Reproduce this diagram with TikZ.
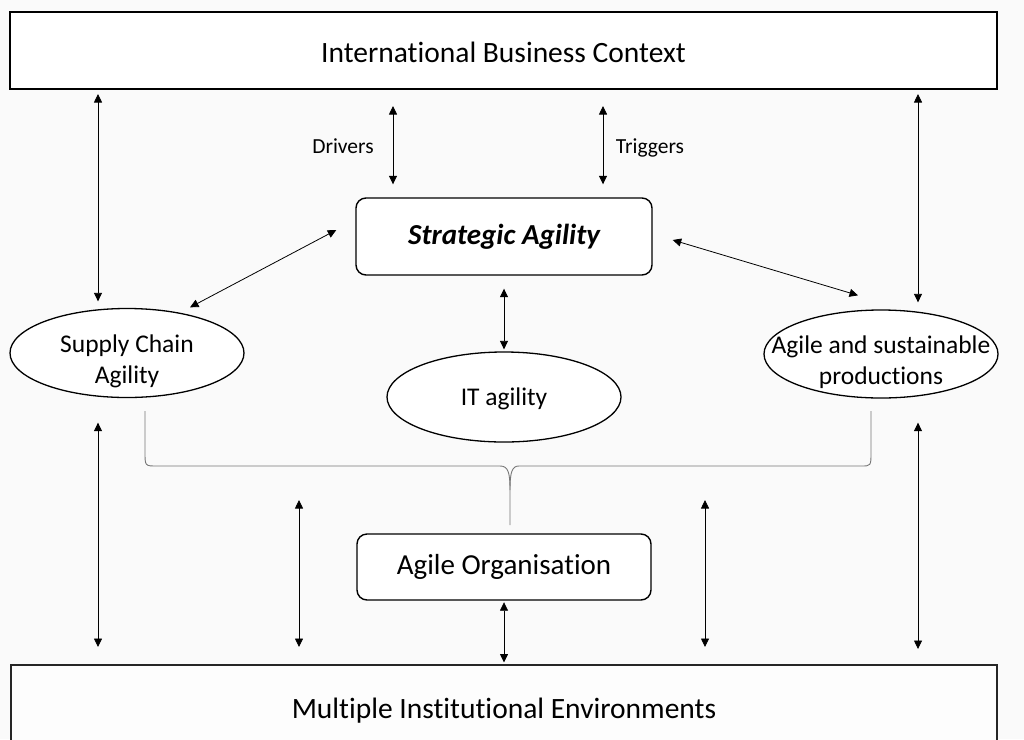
\documentclass[tikz,border=0pt]{standalone}
\usepackage{fontspec}
\setmainfont{Carlito}[Ligatures={NoCommon}]
\usetikzlibrary{arrows.meta,shapes.geometric}
\definecolor{bgc}{HTML}{FAFAFA}
\definecolor{bracec}{HTML}{777777}
\tikzset{
  bigbox/.style={draw=black, line width=2pt, fill=white, inner sep=0pt, font=\fontsize{29.5}{36}\selectfont},
  rbox/.style={draw=black, line width=1.4pt, rounded corners=10pt, fill=white, inner sep=0pt},
  ell/.style={draw=black, line width=1.3pt, ellipse, inner sep=0pt, minimum width=234pt, fill=white},
  elltext/.style={align=center, font=\fontsize{25.5}{31}\selectfont},
  dbl/.style={{Triangle[length=8.5pt,width=8pt]}-{Triangle[length=8.5pt,width=8pt]}, line width=0.8pt},
  lab/.style={font=\fontsize{21.5}{26}\selectfont, inner sep=0pt, anchor=base},
  bracel/.style={draw=bracec, line width=0.9pt}
}
\begin{document}
\begin{tikzpicture}[x=1pt,y=-1pt]
\fill[bgc] (0,0) rectangle (1024,739);
\useasboundingbox (0,0) rectangle (1024,739);
\clip (0,0) rectangle (1024,739);
% main boxes
\node[bigbox, minimum width=987pt, minimum height=77pt, text height=24pt, text depth=0pt] (top) at (503.5,50.5) {International Business Context};
\node[bigbox, draw=black!85, fill=white!60!bgc, minimum width=986pt, minimum height=84pt, text height=23pt, text depth=0pt] (bot) at (504,707) {Multiple Institutional Environments};
\node[rbox, minimum width=296pt, minimum height=77pt, font=\fontsize{29}{35}\selectfont\bfseries\itshape] (sa) at (504,236.5) {Strategic Agility};
\node[rbox, minimum width=294pt, minimum height=66pt, font=\fontsize{29}{35}\selectfont] (ao) at (504,567) {Agile Organisation};
% ellipses
\node[ell, minimum height=89pt, label={[elltext, yshift=-8pt]center:Supply Chain\\Agility}] (sca) at (127,353) {};
\node[ell, minimum height=90pt, label={[elltext, yshift=-2pt]center:IT agility}] (it) at (504,397) {};
\node[ell, minimum height=88pt, label={[elltext, yshift=-8pt]center:Agile and sustainable\\productions}] (ap) at (881,354) {};
% labels
\node[lab] (drv) at (343,153) {Drivers};
\node[lab] (trg) at (650,153) {Triggers};
% helper coordinates
\coordinate (cL) at (98,0);
\coordinate (cR) at (918,0);
\coordinate (cD) at (393,0);
\coordinate (cT) at (603,0);
\coordinate (c3) at (299,500);
\coordinate (c4) at (705,500);
% arrows top
\draw[dbl, shorten <=4pt, shorten >=6.5pt] (top.south -| cL) -- (sca.north -| cL);
\draw[dbl, shorten <=4pt, shorten >=7pt] (top.south -| cR) -- (ap.north -| cR);
\draw[dbl, shorten <=16pt, shorten >=13pt] (top.south -| cD) -- (sa.north -| cD);
\draw[dbl, shorten <=16pt, shorten >=13pt] (top.south -| cT) -- (sa.north -| cT);
% diagonals
\draw[dbl] ([shift={(-19pt,6.5pt)}]sa.west) -- ([shift={(63pt,0.5pt)}]sca.north);
\draw[dbl] ([shift={(20pt,-3.5pt)}]sa.east) -- ([shift={(-23pt,14pt)}]ap.north);
% strategic to IT
\draw[dbl, shorten <=13pt, shorten >=2pt] (sa.south) -- (it.north);
% arrows bottom
\draw[dbl, shorten <=24.5pt, shorten >=17pt] (sca.south -| cL) -- (bot.north -| cL);
\draw[dbl, shorten <=24pt, shorten >=15pt] (ap.south -| cR) -- (bot.north -| cR);
\draw[dbl, shorten >=17pt] (c3) -- (c3 |- bot.north);
\draw[dbl, shorten >=17pt] (c4) -- (c4 |- bot.north);
\draw[dbl, shorten <=1.5pt, shorten >=1.5pt] (ao.south) -- (ao.south |- bot.north);
% brace
\draw[bracel] (145,411) -- (145,452) .. controls (145,466) .. (157,466) -- (500,466)
  .. controls (508,466) and (510,472) .. (510,490) -- (510,525);
\draw[bracel] (510,490) .. controls (510,472) and (512,466) .. (519,466) -- (861,466)
  .. controls (871,466) .. (871,452) -- (871,411);
\end{tikzpicture}
\end{document}
